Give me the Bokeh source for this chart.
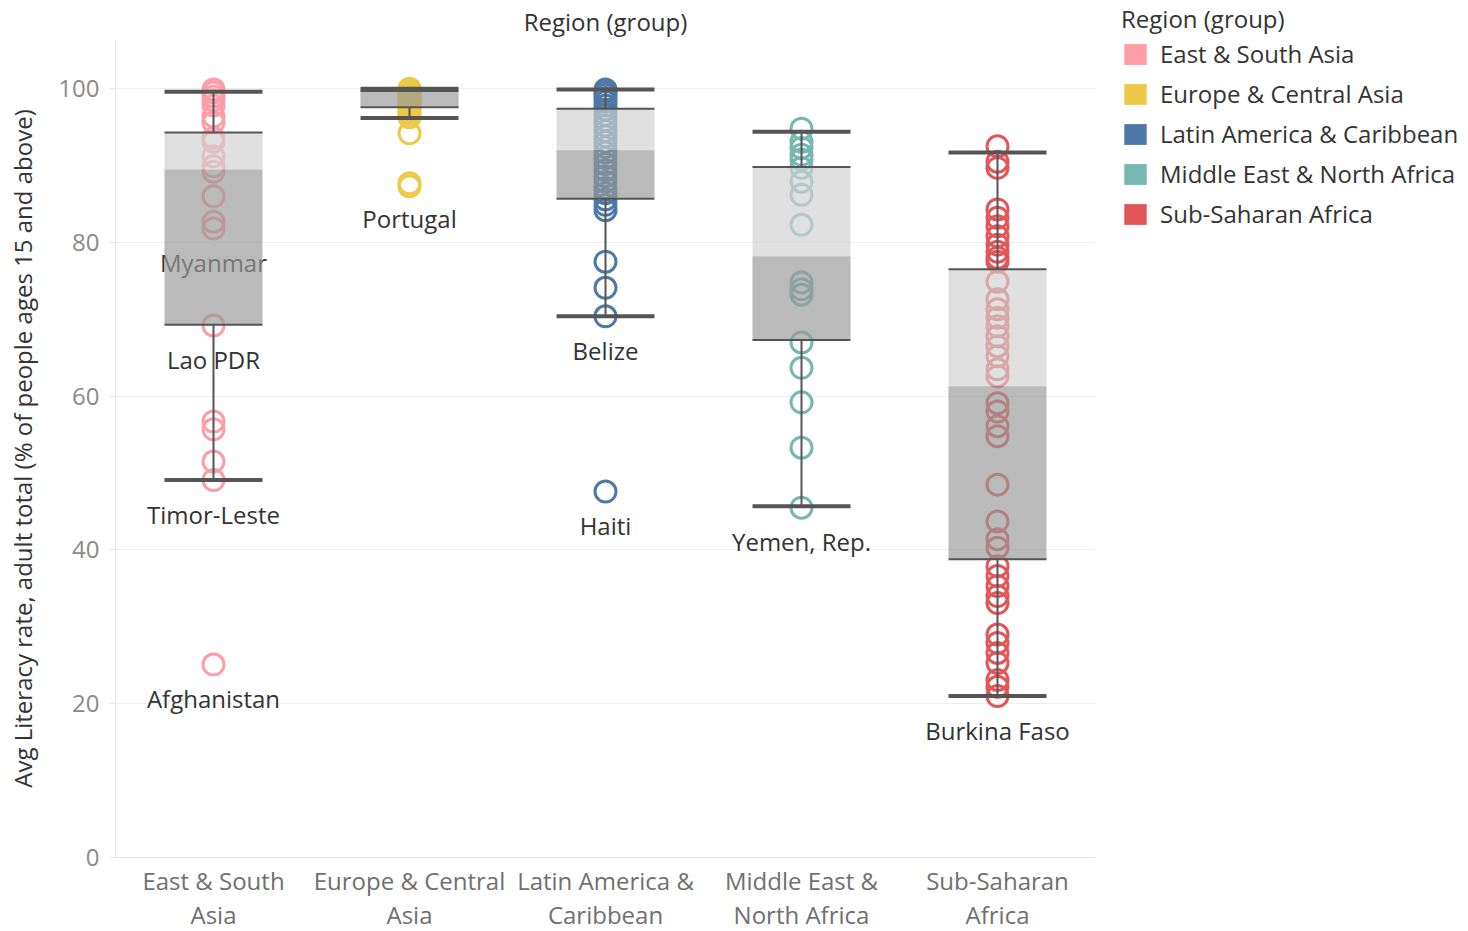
from bokeh.plotting import figure
from bokeh.models import (FactorRange, Range1d, Legend, LegendItem, ColumnDataSource,
                          FixedTicker, CustomJSTickFormatter)
from bokeh.transform import dodge
from bokeh.core.properties import value
from bokeh.embed import file_html
from bokeh.resources import INLINE

FONT = "Open Sans"

regions = ["East & South Asia", "Europe & Central Asia", "Latin America & Caribbean",
           "Middle East & North Africa", "Sub-Saharan Africa"]
region_tick_labels = ["East & South\nAsia", "Europe & Central\nAsia", "Latin America &\nCaribbean",
                      "Middle East &\nNorth Africa", "Sub-Saharan\nAfrica"]
colors = ["#FF9DA7", "#EDC948", "#4E79A7", "#76B7B2", "#E15759"]

east_south_asia = [99.9, 99.5, 99.0, 98.5, 97.8, 96.4, 95.6, 93.6, 93.1, 91.2, 89.9, 89.2,
                   86.0, 82.7, 81.8, 69.2, 56.7, 55.7, 51.5, 49.1, 25.1]
europe_central_asia = [100.0, 99.9, 99.8, 99.7, 99.6, 99.5, 99.4, 99.2, 99.0, 98.8, 98.6, 98.3,
                       98.0, 97.7, 97.4, 97.1, 96.7, 96.3, 94.2, 87.7, 87.3]
latin_america_caribbean = [99.9, 99.6, 99.2, 98.8, 98.3, 97.8, 97.3, 96.6, 95.9, 95.2, 94.5, 93.8,
                           93.1, 92.4, 91.7, 91.0, 90.2, 89.4, 88.6, 87.9, 87.1, 86.4, 85.6, 84.9,
                           84.2, 77.5, 74.1, 70.4, 47.6]
middle_east_north_africa = [94.8, 93.1, 92.3, 91.4, 90.8, 89.7, 87.9, 86.2, 82.3, 74.8, 73.9, 73.2,
                            67.0, 63.7, 59.2, 53.3, 45.5]
sub_saharan_africa = [92.5, 90.5, 89.7, 84.3, 83.2, 82.1, 80.8, 79.7, 78.8, 78.0, 77.5, 74.9, 72.6,
                      71.3, 70.2, 69.1, 67.8, 66.5, 65.2, 63.5, 62.6, 59.1, 58.0, 56.1, 54.8, 48.5,
                      43.7, 41.4, 40.3, 37.9, 36.6, 35.3, 34.0, 33.1, 29.0, 27.9, 26.6, 25.3, 23.1,
                      22.2, 21.0]
series = [east_south_asia, europe_central_asia, latin_america_caribbean,
          middle_east_north_africa, sub_saharan_africa]

whisker_low = [49.1, 96.2, 70.4, 45.7, 21.0]
q1 = [69.3, 97.6, 85.7, 67.3, 38.8]
median = [89.5, 99.6, 92.0, 78.2, 61.3]
q3 = [94.3, 99.7, 97.4, 89.8, 76.5]
whisker_high = [99.6, 100.0, 99.9, 94.4, 91.7]

label_region = ["East & South Asia", "East & South Asia", "East & South Asia", "East & South Asia",
                "Europe & Central Asia", "Latin America & Caribbean", "Latin America & Caribbean",
                "Middle East & North Africa", "Sub-Saharan Africa"]
label_value = [81.8, 69.2, 49.1, 25.1, 87.6, 70.4, 47.6, 45.5, 21.0]
label_text = ["Myanmar", "Lao PDR", "Timor-Leste", "Afghanistan", "Portugal", "Belize", "Haiti",
              "Yemen, Rep.", "Burkina Faso"]

p = figure(x_range=FactorRange(*regions, range_padding=0), y_range=Range1d(0, 106.4),
           frame_width=980, frame_height=818,
           min_border_left=115, min_border_right=0, min_border_top=31, min_border_bottom=0,
           output_backend="svg", toolbar_location=None, title="Region (group)")
p.outline_line_color = None
p.background_fill_color = "white"
p.border_fill_color = "white"

p.title.align = "center"
p.title.text_font = FONT
p.title.text_font_size = "24px"
p.title.text_font_style = "normal"
p.title.text_color = "#333333"
p.title.standoff = 4

# points
for name, vals, col in zip(regions, series, colors):
    src = ColumnDataSource(dict(region=[name] * len(vals), val=vals))
    p.scatter(x="region", y="val", source=src, marker="circle", size=21,
              fill_color=None, line_color=col, line_width=3)

# labels
p.text(x=label_region, y=label_value, text=label_text, y_offset=34,
       text_align="center", text_baseline="middle", text_font=value(FONT),
       text_font_size="24px", text_color="#333333")

box = ColumnDataSource(dict(region=regions, lo=whisker_low, q1=q1, med=median, q3=q3, hi=whisker_high))

# boxes (drawn over the points, semi-transparent)
p.vbar(x="region", bottom="med", top="q3", width=0.5, source=box,
       fill_color="#d1d1d1", fill_alpha=0.67, line_color=None)
p.vbar(x="region", bottom="q1", top="med", width=0.5, source=box,
       fill_color="#989898", fill_alpha=0.67, line_color=None)

# whisker stems
p.segment(x0="region", y0="q3", x1="region", y1="hi", source=box, line_color="#555555", line_width=2)
p.segment(x0="region", y0="q1", x1="region", y1="lo", source=box, line_color="#555555", line_width=2)

left = dodge("region", -0.25, range=p.x_range)
right = dodge("region", 0.25, range=p.x_range)
# hinge lines
p.segment(x0=left, y0="q3", x1=right, y1="q3", source=box, line_color="#555555", line_width=2)
p.segment(x0=left, y0="q1", x1=right, y1="q1", source=box, line_color="#555555", line_width=2)
# caps
p.segment(x0=left, y0="hi", x1=right, y1="hi", source=box, line_color="#555555", line_width=4)
p.segment(x0=left, y0="lo", x1=right, y1="lo", source=box, line_color="#555555", line_width=4)

# legend (zero-width bars at each median, used only as legend swatches)
legend_items = []
for name, col, m in zip(regions, colors, median):
    r = p.vbar(x=[name], bottom=[m], top=[m], width=0, fill_color=col, line_color=None)
    legend_items.append(LegendItem(label=name, renderers=[r]))
legend = Legend(items=legend_items, title="Region (group)", location=(26, 627),
                title_text_font=FONT, title_text_font_size="24px", title_text_font_style="normal",
                title_text_color="#333333", label_text_font=FONT, label_text_font_size="24px",
                label_text_color="#333333", glyph_width=28, glyph_height=26, label_height=30,
                label_standoff=11, spacing=7, padding=0, margin=0, title_standoff=2,
                border_line_color=None, background_fill_alpha=0)
p.add_layout(legend, "right")

# axes
p.xgrid.grid_line_color = None
p.ygrid.grid_line_color = "#efefef"
p.ygrid.grid_line_width = 1

p.yaxis.ticker = FixedTicker(ticks=[0, 20, 40, 60, 80, 100])
p.yaxis.axis_label = "Avg Literacy rate, adult total (% of people ages 15 and above)"
p.yaxis.axis_label_text_font = FONT
p.yaxis.axis_label_text_font_size = "24px"
p.yaxis.axis_label_text_font_style = "normal"
p.yaxis.axis_label_text_color = "#333333"
p.yaxis.axis_label_standoff = 16
p.yaxis.major_label_text_font = FONT
p.yaxis.major_label_text_font_size = "24px"
p.yaxis.major_label_text_color = "#8a8a8a"
p.yaxis.axis_line_color = "#e6e6e6"
p.yaxis.major_tick_line_color = "#e6e6e6"
p.yaxis.major_tick_out = 6
p.yaxis.major_tick_in = 0
p.yaxis.minor_tick_line_color = None
p.yaxis.major_label_standoff = 10

xa = p.xaxis[0]
xa.formatter = CustomJSTickFormatter(args=dict(labels=dict(zip(regions, region_tick_labels))),
                                     code="return labels[tick] || tick;")
xa.major_label_text_font = FONT
xa.major_label_text_font_size = "24px"
xa.major_label_text_color = "#707070"
xa.major_label_text_line_height = 1.05
xa.axis_line_color = "#e6e6e6"
xa.major_tick_line_color = None
xa.major_label_standoff = 0

open("out.html", "w").write(file_html(p, INLINE))
